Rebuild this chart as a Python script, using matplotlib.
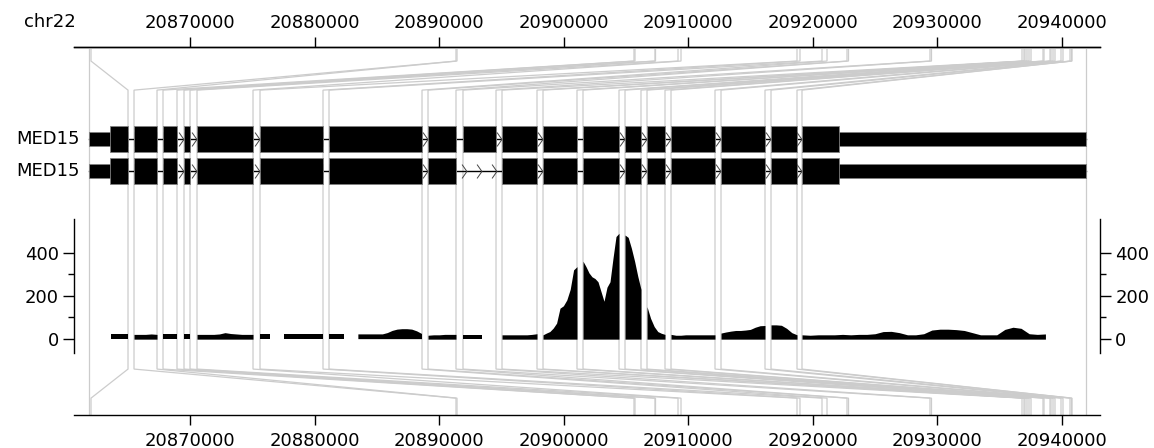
import numpy as np
import matplotlib
matplotlib.use('Agg')
import matplotlib.pyplot as plt
from matplotlib.path import Path
from matplotlib.patches import Rectangle

chrom = 'chr22'
gene_name = 'MED15'

# exon coordinates on the genome (bp)
exon_start = [20861892, 20891354, 20905644, 20907330, 20909177, 20918730,
              20920737, 20922744, 20929407, 20936793, 20937034, 20937355,
              20938479, 20939041, 20939282, 20939924, 20940646, 20940807]
exon_end = [20862052, 20891435, 20905724, 20907370, 20909418, 20918970,
            20921139, 20922864, 20929527, 20936953, 20937194, 20937516,
            20938559, 20939121, 20939442, 20940084, 20940767, 20941931]

# same exons on the intron-compressed track
disp_start = [20861892, 20865504, 20867832, 20869518, 20870562, 20875620,
              20881159, 20889107, 20891916, 20895047, 20898339, 20901550,
              20904922, 20906688, 20908615, 20912629, 20916643, 20919131]
disp_end = [20865023, 20867351, 20868956, 20870000, 20875058, 20880677,
            20888625, 20891354, 20894566, 20897857, 20901068, 20904440,
            20906206, 20908133, 20912147, 20916161, 20918730, 20941931]
cds_start, cds_end = 20863578, 20922102

# exon indices used by each transcript (second one skips exon 9)
transcripts = [list(range(18)), [i for i in range(18) if i != 8]]
# number of strand arrows drawn in the intron following exon i
arrows = [
    {2: 1, 3: 1, 4: 1, 6: 1, 8: 1, 9: 1, 11: 1, 12: 1, 13: 1, 14: 1, 15: 1, 16: 1},
    {2: 1, 3: 1, 4: 1, 6: 1, 7: 3, 9: 1, 11: 1, 12: 1, 13: 1, 14: 1, 15: 1, 16: 1},
]

# read coverage, sampled evenly across each exon of the compressed track
cov_by_exon = [
    [0, 0, 0, 0, 22, 22, 22, 22],
    [22, 22, 22, 24, 22],
    [22, 22, 22],
    [22, 22],
    [22, 22, 22, 22, 24, 30, 26, 24, 22, 22, 22],
    [22, 22, 22, 0, 0, 22, 22, 22, 22, 22, 22, 22, 22, 22],
    [22, 22, 22, 22, 0, 0, 22, 22, 22, 22, 22, 22, 28, 38, 44, 46, 46, 44, 36, 24],
    [18, 20, 20, 22, 22, 22],
    [20, 20, 20, 20, 20, 0, 0, 20],
    [20, 20, 20, 20, 20, 20, 22, 25],
    [20, 28, 35, 51, 74, 143, 154, 181, 230, 320, 335],
    [360, 335, 306, 288, 280, 265, 220, 175, 240, 265, 374, 474, 489],
    [481, 470, 420, 360, 290, 230],
    [150, 96, 58, 35, 27, 22],
    [22, 18, 18, 20, 20, 20, 20, 20, 20, 20],
    [28, 33, 37, 40, 40, 42, 45, 55, 62, 63],
    [66, 66, 64, 50, 30, 20],
    [20, 18, 20, 20, 20, 22, 20, 22, 22, 25, 35, 36, 30, 20, 20, 25, 42, 46,
     46, 44, 40, 30, 20, 20, 20, 45, 55, 50, 25, 22, 24, 0, 0, 0, 0, 0],
]

view = (20860687, 20943055)
ticks = [20870000, 20880000, 20890000, 20900000, 20910000, 20920000, 20930000, 20940000]
cov_ticks = [0, 200, 400]
cov_minor = [100, 300]
cov_lim = (-64, 555)

W, H = 1154, 448
fig = plt.figure(figsize=(W / 100, H / 100), dpi=100)
plt.rcParams['font.family'] = ['DejaVu Sans']
fs = 13

# main axes: top/bottom genomic axes, fan lines and gene models
ax = fig.add_axes([74 / W, (H - 414.7) / H, 1026 / W, 368 / H])
ax.set_xlim(*view)
ax.set_ylim(0, 1)
ax.patch.set_alpha(0)
for s in ('left', 'right'):
    ax.spines[s].set_visible(False)
for s in ('top', 'bottom'):
    ax.spines[s].set_linewidth(1.0)
ax.set_yticks([])
ax.set_xticks(ticks)
ax.set_xticklabels([str(t) for t in ticks])
ax.tick_params(axis='x', direction='out', length=7.5, width=1.0, labelsize=fs, pad=5)
top = ax.secondary_xaxis('top')
top.set_xticks(ticks)
top.set_xticklabels([str(t) for t in ticks])
top.tick_params(axis='x', direction='out', length=7.5, width=1.0, labelsize=fs, pad=3)
top.spines['top'].set_linewidth(1.0)
fig.text(50 / W, 1 - 22 / H, chrom, ha='center', va='center', fontsize=fs)

y_stub_top, y_fan_top, y_fan_bot, y_stub_bot = 0.961, 0.882, 0.124, 0.045
for g, d in zip(exon_start + exon_end, disp_start + disp_end):
    ax.plot([g, g, d, d, g, g], [1, y_stub_top, y_fan_top, y_fan_bot, y_stub_bot, 0],
            color='#cccccc', lw=0.9, zorder=1, solid_joinstyle='miter')

chev = Path([(-0.35, -1), (0.35, 0), (-0.35, 1)], [Path.MOVETO, Path.LINETO, Path.LINETO])
tx_y = [0.749, 0.662]
thick_h, utr_h = 0.071, 0.038
for t, (tx, ty) in enumerate(zip(transcripts, tx_y)):
    ax.plot([disp_start[tx[0]], disp_end[tx[-1]]], [ty, ty], color='black', lw=1, zorder=2)
    for i in tx:
        x0, x1 = disp_start[i], disp_end[i]
        ax.add_patch(Rectangle((x0, ty - utr_h / 2), x1 - x0, utr_h, fc='black',
                               ec='#808080', lw=0.6, zorder=3))
        c0, c1 = max(x0, cds_start), min(x1, cds_end)
        if c1 > c0:
            ax.add_patch(Rectangle((c0, ty - thick_h / 2), c1 - c0, thick_h, fc='black',
                                   ec='#808080', lw=0.6, zorder=3))
    for a, b in zip(tx[:-1], tx[1:]):
        n = arrows[t].get(a, 0)
        if n:
            x0, x1 = disp_end[a], disp_start[b]
            xs = x0 + (x1 - x0) * (np.arange(n) + 0.5) / n
            ax.plot(xs, [ty] * n, ls='none', marker=chev, ms=10, mfc='none',
                    mec='#444444', mew=0.7, zorder=4)
    ax.annotate(gene_name, xy=(disp_start[tx[0]], ty), xytext=(-6.5, 0),
                textcoords='offset points', ha='right', va='center', fontsize=fs,
                annotation_clip=False)

# coverage track
axc = fig.add_axes([74 / W, (H - 353) / H, 1026 / W, 134 / H], sharex=ax)
axc.patch.set_alpha(0)
for i, vals in enumerate(cov_by_exon):
    vals = np.array(vals)
    xs = np.linspace(disp_start[i], disp_end[i], len(vals))
    axc.fill_between(xs, 0, vals, where=vals > 0, color='black', lw=0)
axc.set_ylim(*cov_lim)
axc.set_xlim(*view)
for s in ('top', 'bottom'):
    axc.spines[s].set_visible(False)
for s in ('left', 'right'):
    axc.spines[s].set_linewidth(1.0)
axc.set_yticks(cov_ticks)
axc.set_yticks(cov_minor, minor=True)
axc.tick_params(axis='x', which='both', bottom=False, top=False,
                labelbottom=False, labeltop=False)
axc.tick_params(axis='y', which='major', left=True, right=True, labelleft=True,
                labelright=True, length=8, width=1.0, labelsize=fs, pad=3)
axc.tick_params(axis='y', which='minor', left=True, right=True, length=4.3, width=1.0)

fig.savefig('out.png', dpi=100)
